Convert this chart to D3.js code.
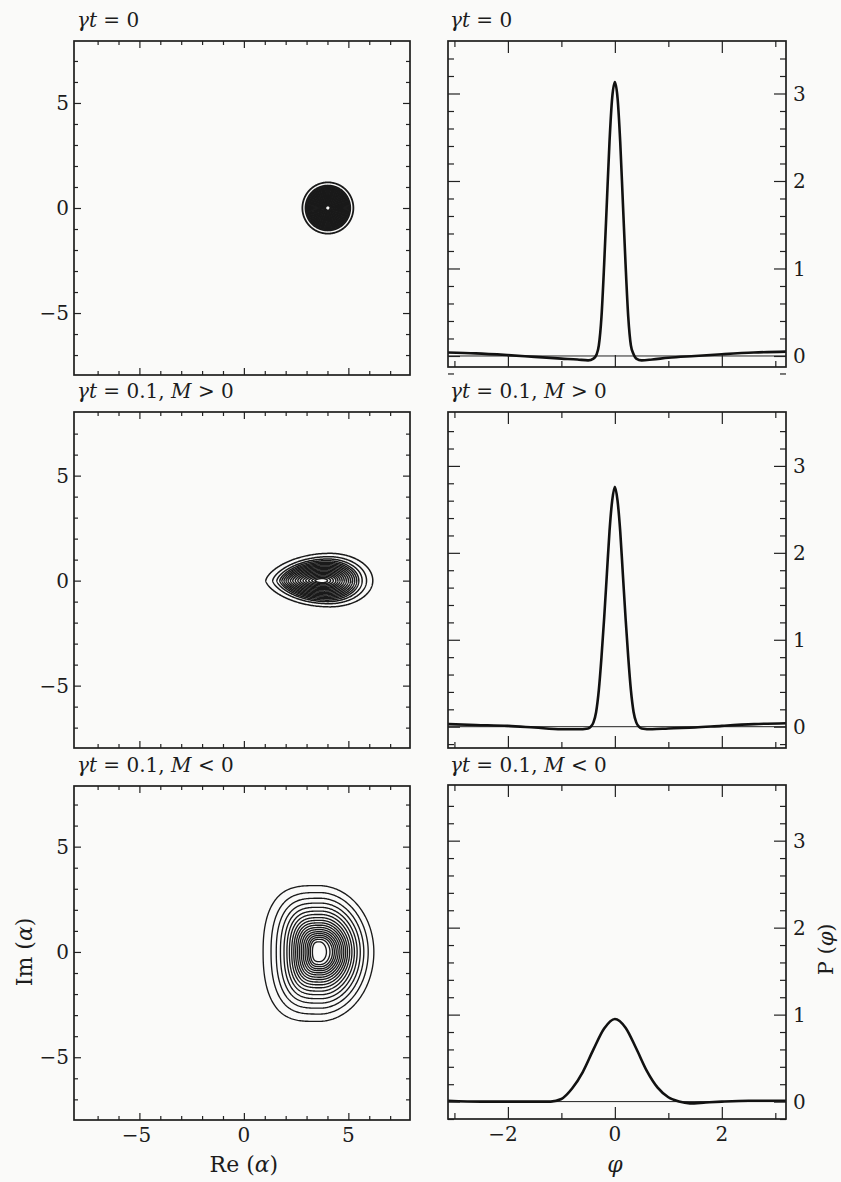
<!DOCTYPE html>
<html>
<head>
<meta charset="utf-8">
<script src="https://cdn.jsdelivr.net/npm/d3@7"></script>
<style>
  body { margin: 0; background: #fafaf9; }
  svg { display: block; }
  text { font-family: "DejaVu Serif", "Liberation Serif", serif; fill: #1c1c1c; }
  .tick line { stroke: #222; stroke-width: 1.2; }
  .domain { display: none; }
</style>
</head>
<body>
<svg width="841" height="1182"></svg>
<script>

  // DATA

  var titles = ["γt = 0", "γt = 0.1, M > 0", "γt = 0.1, M < 0"];

  var reMajor = [-5, 0, 5],
    reMinor = [-7, -6, -4, -3, -2, -1, 1, 2, 3, 4, 6, 7],
    reLabels = ["−5", "0", "5"];

  var phiMajor = [-2, 0, 2],
    phiMinor = [-3, -1, 1, 3],
    phiLabels = ["−2", "0", "2"];

  var pMajor = [0, 1, 2, 3],
    pMinor = [-0.2, 0.2, 0.4, 0.6, 0.8, 1.2, 1.4, 1.6, 1.8, 2.2, 2.4, 2.6, 2.8, 3.2, 3.4],
    pLabels = ["0", "1", "2", "3"];

  // contour rings, each [left, right, bottom, top] in alpha units
  var ringsA = [
    [2.80, 5.24, -1.22, 1.22], [2.95, 5.09, -1.07, 1.07], [3.00, 5.04, -1.02, 1.02],
    [3.05, 4.99, -0.97, 0.97], [3.10, 4.94, -0.92, 0.92], [3.15, 4.89, -0.87, 0.87],
    [3.20, 4.84, -0.82, 0.82], [3.25, 4.79, -0.77, 0.77], [3.30, 4.74, -0.72, 0.72],
    [3.35, 4.69, -0.67, 0.67], [3.40, 4.64, -0.62, 0.62], [3.45, 4.59, -0.57, 0.57],
    [3.50, 4.54, -0.52, 0.52], [3.55, 4.49, -0.47, 0.47], [3.60, 4.44, -0.42, 0.42],
    [3.65, 4.39, -0.37, 0.37], [3.70, 4.34, -0.32, 0.32], [3.75, 4.29, -0.27, 0.27],
    [3.80, 4.24, -0.22, 0.22], [3.85, 4.19, -0.17, 0.17], [3.90, 4.14, -0.12, 0.12]
  ];

  var ringsB = [
    [1.05, 6.17, -1.25, 1.30], [1.38, 5.87, -1.10, 1.14], [1.58, 5.66, -1.00, 1.03],
    [1.72, 5.50, -0.93, 0.95], [1.82, 5.40, -0.86, 0.88], [1.92, 5.30, -0.80, 0.82],
    [2.02, 5.20, -0.74, 0.76], [2.12, 5.10, -0.68, 0.70], [2.23, 5.00, -0.62, 0.64],
    [2.34, 4.90, -0.56, 0.58], [2.46, 4.80, -0.50, 0.52], [2.58, 4.70, -0.44, 0.46],
    [2.70, 4.60, -0.38, 0.40], [2.83, 4.50, -0.33, 0.34], [2.96, 4.40, -0.27, 0.28],
    [3.10, 4.28, -0.21, 0.22], [3.25, 4.15, -0.15, 0.16], [3.40, 4.00, -0.10, 0.10]
  ];

  var ringsC = [
    [0.92, 6.22, -3.30, 3.15], [1.30, 5.95, -2.95, 2.82], [1.55, 5.74, -2.67, 2.55],
    [1.75, 5.57, -2.43, 2.32], [1.92, 5.42, -2.22, 2.12], [2.06, 5.29, -2.03, 1.94],
    [2.18, 5.17, -1.86, 1.78], [2.29, 5.06, -1.70, 1.63], [2.39, 4.96, -1.56, 1.50],
    [2.48, 4.87, -1.43, 1.38], [2.57, 4.78, -1.31, 1.27], [2.66, 4.69, -1.20, 1.16],
    [2.75, 4.60, -1.09, 1.06], [2.84, 4.51, -0.99, 0.96], [2.93, 4.42, -0.89, 0.87],
    [3.02, 4.33, -0.80, 0.78], [3.10, 4.24, -0.70, 0.69], [3.18, 4.12, -0.60, 0.60],
    [3.28, 3.95, -0.46, 0.48]
  ];

  var phiA = [-3.12, -2.6, -2.0, -1.5, -1.0, -0.7, -0.5, -0.4, -0.34, -0.3, -0.25, -0.2, -0.15, -0.1, -0.05, 0,
    0.05, 0.1, 0.15, 0.2, 0.25, 0.3, 0.35, 0.4, 0.5, 0.7, 1.0, 1.5, 2.0, 2.6, 3.2],
    probA = [0.04, 0.03, 0.01, -0.01, -0.03, -0.04, -0.05, -0.03, 0.02, 0.12, 0.45, 1.05, 1.75, 2.45, 2.95, 3.13,
      2.95, 2.45, 1.75, 1.05, 0.45, 0.12, 0.02, -0.03, -0.05, -0.04, -0.02, 0.0, 0.02, 0.04, 0.05];

  var phiB = [-3.12, -2.6, -2.0, -1.5, -1.0, -0.7, -0.5, -0.45, -0.4, -0.35, -0.3, -0.25, -0.2, -0.15, -0.1, -0.05, 0,
    0.05, 0.1, 0.15, 0.2, 0.25, 0.3, 0.35, 0.4, 0.45, 0.5, 0.7, 1.0, 1.5, 2.0, 2.6, 3.2],
    probB = [0.03, 0.02, 0.01, -0.01, -0.03, -0.03, -0.02, 0.0, 0.05, 0.17, 0.42, 0.8, 1.25, 1.75, 2.25, 2.6, 2.76,
      2.6, 2.25, 1.75, 1.25, 0.8, 0.42, 0.17, 0.05, 0.0, -0.02, -0.03, -0.02, -0.01, 0.01, 0.03, 0.04];

  var phiC = [-3.12, -2.5, -2.0, -1.5, -1.2, -1.0, -0.8, -0.6, -0.4, -0.2, 0, 0.2, 0.4, 0.6, 0.8, 1.0, 1.2, 1.4, 1.7, 2.0, 2.5, 3.2],
    probC = [0.01, 0.0, 0.0, 0.0, 0.0, 0.03, 0.15, 0.34, 0.6, 0.84, 0.95, 0.85, 0.61, 0.35, 0.16, 0.05, 0.0, -0.02, -0.01, 0.0, 0.01, 0.01];

  // SETUP

  var svg = d3.select("svg");

  var rows = [
    { title: titles[0], rings: ringsA, peak: 0.5, leftPx: 1, leftPy: 1, ringWidth: 1.8, phi: phiA, prob: probA,
      left: { x0: 74, x1: 410, y0: 41, y1: 375, yd: [-7.95, 7.95] },
      right: { x0: 448, x1: 786, y0: 41, y1: 367, yd: [-0.126, 3.6] }, titleY: 27 },
    { title: titles[1], rings: ringsB, peak: 0.6, leftPx: 1, leftPy: 1.3, ringWidth: 1.5, phi: phiB, prob: probB,
      left: { x0: 74, x1: 410, y0: 412, y1: 748, yd: [-7.97, 8.03] },
      right: { x0: 448, x1: 786, y0: 412, y1: 748, yd: [-0.245, 3.62] }, titleY: 398 },
    { title: titles[2], rings: ringsC, peak: 0.5, leftPx: 0.6, leftPy: 0.85, ringWidth: 1.35, phi: phiC, prob: probC,
      left: { x0: 74, x1: 410, y0: 786, y1: 1120, yd: [-7.98, 7.88] },
      right: { x0: 448, x1: 786, y0: 785, y1: 1119, yd: [-0.2, 3.64] }, titleY: 772 }
  ];

  var italicChars = "γtMαφ";

  function mathText(sel, str) {
    str.split("").forEach(function (c) {
      sel.append("tspan")
        .style("font-style", italicChars.indexOf(c) >= 0 ? "italic" : "normal")
        .text(c);
    });
  }

  function frameTicks(g, x, y, b, xMaj, xMin, yMaj, yMin, majLen, minLen) {
    var sets = [
      [d3.axisBottom, x, "translate(0," + b.y1 + ")", xMaj, majLen],
      [d3.axisBottom, x, "translate(0," + b.y1 + ")", xMin, minLen],
      [d3.axisTop, x, "translate(0," + b.y0 + ")", xMaj, majLen],
      [d3.axisTop, x, "translate(0," + b.y0 + ")", xMin, minLen],
      [d3.axisLeft, y, "translate(" + b.x0 + ",0)", yMaj, majLen],
      [d3.axisLeft, y, "translate(" + b.x0 + ",0)", yMin, minLen],
      [d3.axisRight, y, "translate(" + b.x1 + ",0)", yMaj, majLen],
      [d3.axisRight, y, "translate(" + b.x1 + ",0)", yMin, minLen]
    ];
    sets.forEach(function (s) {
      g.append("g")
        .attr("transform", s[2])
        .call(s[0](s[1]).tickValues(s[3]).tickSize(-s[4]).tickFormat(""));
    });
    g.append("rect")
      .attr("x", b.x0).attr("y", b.y0)
      .attr("width", b.x1 - b.x0).attr("height", b.y1 - b.y0)
      .attr("fill", "none").attr("stroke", "#1e1e1e").attr("stroke-width", 1.7);
  }

  // DRAWING

  rows.forEach(function (row, i) {
    var L = row.left, R = row.right;
    var g = svg.append("g");

    // contour panel
    var x = d3.scaleLinear().domain([-8.13, 7.95]).range([L.x0, L.x1]);
    var y = d3.scaleLinear().domain(L.yd).range([L.y1, L.y0]);

    var ringLine = d3.line()
      .x(function (d) { return x(d[0]); })
      .y(function (d) { return y(d[1]); })
      .curve(d3.curveLinearClosed);

    function ringPoints(r) {
      var cx = r[0] + row.peak * (r[1] - r[0]), pts = [];
      for (var k = 0; k < 360; k++) {
        var t = k / 360 * 2 * Math.PI, c = Math.cos(t), s = Math.sin(t);
        var ax = c >= 0 ? r[1] - cx : cx - r[0];
        var ay = s >= 0 ? r[3] : -r[2];
        var ex = c < 0 ? row.leftPx : 1, ey = c < 0 ? row.leftPy : 1;
        pts.push([cx + ax * Math.sign(c) * Math.pow(Math.abs(c), ex),
          ay * Math.sign(s) * Math.pow(Math.abs(s), ey)]);
      }
      return pts;
    }

    g.selectAll(".ring")
      .data(row.rings)
      .enter().append("path")
      .attr("class", "ring")
      .attr("d", function (d) { return ringLine(ringPoints(d)); })
      .attr("fill", "none")
      .attr("stroke", "#1a1a1a")
      .attr("stroke-width", row.ringWidth);

    frameTicks(g, x, y, L, reMajor, reMinor, reMajor, reMinor, 7, 4);

    g.selectAll(".ylab")
      .data(reMajor)
      .enter().append("text")
      .attr("x", L.x0 - 5)
      .attr("y", function (d) { return y(d); })
      .attr("dy", "0.36em")
      .attr("text-anchor", "end")
      .style("font-size", "20px")
      .text(function (d, j) { return reLabels[j]; });

    // phase distribution panel
    var px = d3.scaleLinear().domain([-3.12, 3.2]).range([R.x0, R.x1]);
    var py = d3.scaleLinear().domain(R.yd).range([R.y1, R.y0]);

    g.append("line")
      .attr("x1", R.x0).attr("x2", R.x1)
      .attr("y1", py(0)).attr("y2", py(0))
      .attr("stroke", "#222").attr("stroke-width", 1);

    var curve = d3.line()
      .x(function (d, j) { return px(row.phi[j]); })
      .y(function (d) { return py(d); })
      .curve(d3.curveMonotoneX);

    g.append("path")
      .attr("d", curve(row.prob))
      .attr("fill", "none")
      .attr("stroke", "#111")
      .attr("stroke-width", 2.6)
      .attr("stroke-linejoin", "round");

    frameTicks(g, px, py, R, phiMajor, phiMinor, pMajor, pMinor, 12, 6);

    g.selectAll(".plab")
      .data(pMajor)
      .enter().append("text")
      .attr("x", R.x1 + 7)
      .attr("y", function (d) { return py(d); })
      .attr("dy", "0.36em")
      .style("font-size", "20px")
      .text(function (d, j) { return pLabels[j]; });

    // titles
    [L.x0 + 3, R.x0 + 2].forEach(function (tx) {
      g.append("text")
        .attr("x", tx).attr("y", row.titleY)
        .style("font-size", "20px")
        .call(mathText, row.title);
    });

    // bottom row labels
    if (i === 2) {
      g.selectAll(".xlab")
        .data(reMajor)
        .enter().append("text")
        .attr("x", function (d) { return x(d) + (d < 0 ? -3 : 0); })
        .attr("y", L.y1 + 22)
        .attr("text-anchor", "middle")
        .style("font-size", "20px")
        .text(function (d, j) { return reLabels[j]; });

      g.selectAll(".phlab")
        .data(phiMajor)
        .enter().append("text")
        .attr("x", function (d) { return px(d) + (d < 0 ? -5 : 0); })
        .attr("y", R.y1 + 22)
        .attr("text-anchor", "middle")
        .style("font-size", "20px")
        .text(function (d, j) { return phiLabels[j]; });

      g.append("text")
        .attr("x", x(0)).attr("y", 1172)
        .attr("text-anchor", "middle")
        .style("font-size", "22px")
        .call(mathText, "Re (α)");

      g.append("text")
        .attr("x", px(0)).attr("y", 1172)
        .attr("text-anchor", "middle")
        .style("font-size", "22px")
        .call(mathText, "φ");

      g.append("text")
        .attr("transform", "translate(32," + y(0) + ") rotate(-90)")
        .attr("text-anchor", "middle")
        .style("font-size", "22px")
        .call(mathText, "Im (α)");

      g.append("text")
        .attr("transform", "translate(833," + py(1.75) + ") rotate(-90)")
        .attr("text-anchor", "middle")
        .style("font-size", "21px")
        .call(mathText, "P (φ)");
    }
  });

</script>
</body>
</html>
